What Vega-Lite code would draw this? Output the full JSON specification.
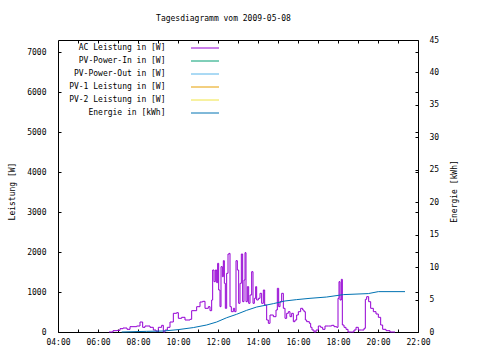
{
  "$schema": "https://vega.github.io/schema/vega-lite/v6.json",
  "autosize": {"type": "none"},
  "width": 360,
  "height": 292,
  "padding": {"left": 58, "top": 40, "right": 62, "bottom": 28},
  "background": "white",
  "title": {"text": "Tagesdiagramm vom 2009-05-08", "anchor": "middle", "frame": "group", "dx": -14.5, "offset": 7, "baseline": "alphabetic", "font": "DejaVu Sans Mono", "fontSize": 8, "fontWeight": "normal", "color": "black"},
  "config": {
    "view": {"stroke": "black", "strokeWidth": 1},
    "axis": {"domain": false, "grid": false, "tickColor": "black", "tickSize": -3, "tickWidth": 1, "labelFont": "DejaVu Sans Mono", "labelFontSize": 8, "labelColor": "black", "titleFont": "DejaVu Sans Mono", "titleFontSize": 8, "titleFontWeight": "normal", "titleColor": "black"},
    "legend": {"orient": "none", "legendX": 143, "legendY": 4, "title": null, "symbolType": "M-7,0H7", "symbolSize": 16, "symbolStrokeWidth": 1, "symbolOpacity": 1, "rowPadding": 5, "labelOffset": -43.5, "labelAlign": "right", "labelFont": "DejaVu Sans Mono", "labelFontSize": 8, "labelColor": "black", "padding": 0, "labelLimit": 300}
  },
  "datasets": {
    "ac": [
      {"t": "2009-05-08T06:33", "w": 0}, {"t": "2009-05-08T06:45", "w": 33}, {"t": "2009-05-08T06:57", "w": 40}, {"t": "2009-05-08T07:06", "w": 83}, {"t": "2009-05-08T07:15", "w": 100}, {"t": "2009-05-08T07:27", "w": 67}, {"t": "2009-05-08T07:36", "w": 133}, {"t": "2009-05-08T07:56", "w": 150}, {"t": "2009-05-08T08:06", "w": 250}, {"t": "2009-05-08T08:14", "w": 117}, {"t": "2009-05-08T08:21", "w": 150}, {"t": "2009-05-08T08:36", "w": 117}, {"t": "2009-05-08T08:46", "w": 50}, {"t": "2009-05-08T08:54", "w": 17}, {"t": "2009-05-08T09:01", "w": 117}, {"t": "2009-05-08T09:11", "w": 167}, {"t": "2009-05-08T09:16", "w": 0}, {"t": "2009-05-08T09:21", "w": 50}, {"t": "2009-05-08T09:28", "w": 117}, {"t": "2009-05-08T09:36", "w": 250}, {"t": "2009-05-08T09:46", "w": 467}, {"t": "2009-05-08T09:56", "w": 483}, {"t": "2009-05-08T10:01", "w": 342}, {"t": "2009-05-08T10:11", "w": 367}, {"t": "2009-05-08T10:21", "w": 300}, {"t": "2009-05-08T10:36", "w": 317}, {"t": "2009-05-08T10:41", "w": 533}, {"t": "2009-05-08T10:56", "w": 633}, {"t": "2009-05-08T11:06", "w": 750}, {"t": "2009-05-08T11:14", "w": 767}, {"t": "2009-05-08T11:21", "w": 592}, {"t": "2009-05-08T11:31", "w": 633}, {"t": "2009-05-08T11:36", "w": 533}, {"t": "2009-05-08T11:41", "w": 800}, {"t": "2009-05-08T11:44", "w": 1550}, {"t": "2009-05-08T11:48", "w": 1258}, {"t": "2009-05-08T11:52", "w": 1550}, {"t": "2009-05-08T11:56", "w": 1233}, {"t": "2009-05-08T11:59", "w": 1717}, {"t": "2009-05-08T12:02", "w": 1050}, {"t": "2009-05-08T12:06", "w": 633}, {"t": "2009-05-08T12:09", "w": 1633}, {"t": "2009-05-08T12:13", "w": 1383}, {"t": "2009-05-08T12:16", "w": 1783}, {"t": "2009-05-08T12:19", "w": 1217}, {"t": "2009-05-08T12:22", "w": 592}, {"t": "2009-05-08T12:26", "w": 1467}, {"t": "2009-05-08T12:30", "w": 1950}, {"t": "2009-05-08T12:34", "w": 1967}, {"t": "2009-05-08T12:36", "w": 633}, {"t": "2009-05-08T12:40", "w": 508}, {"t": "2009-05-08T12:46", "w": 592}, {"t": "2009-05-08T12:50", "w": 508}, {"t": "2009-05-08T12:54", "w": 1783}, {"t": "2009-05-08T12:58", "w": 1550}, {"t": "2009-05-08T13:02", "w": 717}, {"t": "2009-05-08T13:06", "w": 1217}, {"t": "2009-05-08T13:10", "w": 1950}, {"t": "2009-05-08T13:14", "w": 758}, {"t": "2009-05-08T13:18", "w": 1300}, {"t": "2009-05-08T13:21", "w": 1983}, {"t": "2009-05-08T13:24", "w": 758}, {"t": "2009-05-08T13:28", "w": 1133}, {"t": "2009-05-08T13:32", "w": 717}, {"t": "2009-05-08T13:36", "w": 925}, {"t": "2009-05-08T13:41", "w": 1508}, {"t": "2009-05-08T13:45", "w": 717}, {"t": "2009-05-08T13:49", "w": 842}, {"t": "2009-05-08T13:53", "w": 1133}, {"t": "2009-05-08T13:56", "w": 800}, {"t": "2009-05-08T14:01", "w": 842}, {"t": "2009-05-08T14:06", "w": 967}, {"t": "2009-05-08T14:11", "w": 717}, {"t": "2009-05-08T14:16", "w": 1050}, {"t": "2009-05-08T14:20", "w": 675}, {"t": "2009-05-08T14:26", "w": 300}, {"t": "2009-05-08T14:31", "w": 217}, {"t": "2009-05-08T14:36", "w": 425}, {"t": "2009-05-08T14:46", "w": 383}, {"t": "2009-05-08T14:54", "w": 550}, {"t": "2009-05-08T14:58", "w": 1092}, {"t": "2009-05-08T15:02", "w": 633}, {"t": "2009-05-08T15:06", "w": 758}, {"t": "2009-05-08T15:11", "w": 967}, {"t": "2009-05-08T15:16", "w": 592}, {"t": "2009-05-08T15:21", "w": 342}, {"t": "2009-05-08T15:26", "w": 467}, {"t": "2009-05-08T15:31", "w": 508}, {"t": "2009-05-08T15:36", "w": 383}, {"t": "2009-05-08T15:41", "w": 467}, {"t": "2009-05-08T15:46", "w": 258}, {"t": "2009-05-08T15:51", "w": 300}, {"t": "2009-05-08T15:56", "w": 425}, {"t": "2009-05-08T16:01", "w": 508}, {"t": "2009-05-08T16:08", "w": 592}, {"t": "2009-05-08T16:14", "w": 550}, {"t": "2009-05-08T16:18", "w": 508}, {"t": "2009-05-08T16:22", "w": 300}, {"t": "2009-05-08T16:26", "w": 258}, {"t": "2009-05-08T16:34", "w": 217}, {"t": "2009-05-08T16:38", "w": 117}, {"t": "2009-05-08T16:42", "w": 50}, {"t": "2009-05-08T16:48", "w": 0}, {"t": "2009-05-08T16:54", "w": 50}, {"t": "2009-05-08T17:01", "w": 150}, {"t": "2009-05-08T17:08", "w": 117}, {"t": "2009-05-08T17:14", "w": 67}, {"t": "2009-05-08T17:21", "w": 150}, {"t": "2009-05-08T17:31", "w": 150}, {"t": "2009-05-08T17:41", "w": 167}, {"t": "2009-05-08T17:48", "w": 133}, {"t": "2009-05-08T17:56", "w": 117}, {"t": "2009-05-08T18:00", "w": 842}, {"t": "2009-05-08T18:03", "w": 1258}, {"t": "2009-05-08T18:06", "w": 800}, {"t": "2009-05-08T18:10", "w": 1317}, {"t": "2009-05-08T18:13", "w": 175}, {"t": "2009-05-08T18:18", "w": 117}, {"t": "2009-05-08T18:24", "w": 67}, {"t": "2009-05-08T18:30", "w": 0}, {"t": "2009-05-08T18:41", "w": 0}, {"t": "2009-05-08T18:48", "w": 50}, {"t": "2009-05-08T18:54", "w": 117}, {"t": "2009-05-08T19:01", "w": 50}, {"t": "2009-05-08T19:11", "w": 50}, {"t": "2009-05-08T19:18", "w": 92}, {"t": "2009-05-08T19:22", "w": 817}, {"t": "2009-05-08T19:26", "w": 883}, {"t": "2009-05-08T19:32", "w": 758}, {"t": "2009-05-08T19:38", "w": 592}, {"t": "2009-05-08T19:46", "w": 508}, {"t": "2009-05-08T19:54", "w": 450}, {"t": "2009-05-08T20:01", "w": 367}, {"t": "2009-05-08T20:08", "w": 175}, {"t": "2009-05-08T20:14", "w": 67}, {"t": "2009-05-08T20:24", "w": 33}, {"t": "2009-05-08T20:36", "w": 0}, {"t": "2009-05-08T20:51", "w": 0}
    ],
    "en": [
      {"t": "2009-05-08T07:11", "e": 0}, {"t": "2009-05-08T08:26", "e": 0.1}, {"t": "2009-05-08T09:16", "e": 0.15}, {"t": "2009-05-08T10:01", "e": 0.37}, {"t": "2009-05-08T10:46", "e": 0.68}, {"t": "2009-05-08T11:26", "e": 1.08}, {"t": "2009-05-08T11:56", "e": 1.54}, {"t": "2009-05-08T12:26", "e": 2.2}, {"t": "2009-05-08T12:56", "e": 2.73}, {"t": "2009-05-08T13:26", "e": 3.34}, {"t": "2009-05-08T13:56", "e": 3.85}, {"t": "2009-05-08T14:46", "e": 4.37}, {"t": "2009-05-08T15:21", "e": 4.78}, {"t": "2009-05-08T15:56", "e": 4.99}, {"t": "2009-05-08T16:36", "e": 5.19}, {"t": "2009-05-08T17:26", "e": 5.39}, {"t": "2009-05-08T18:16", "e": 5.76}, {"t": "2009-05-08T19:31", "e": 5.92}, {"t": "2009-05-08T20:01", "e": 6.22}, {"t": "2009-05-08T21:21", "e": 6.22}
    ]
  },
  "layer": [
    {
      "data": {"name": "ac"},
      "transform": [{"calculate": "'AC Leistung in [W]'", "as": "s"}],
      "mark": {"type": "line", "interpolate": "step-after", "strokeWidth": 1},
      "encoding": {
        "x": {"field": "t", "type": "temporal", "scale": {"domain": [{"year": 2009, "month": 5, "date": 8, "hours": 4}, {"year": 2009, "month": 5, "date": 8, "hours": 22}], "nice": false},
              "axis": {"orient": "bottom", "title": null, "format": "%H:%M", "labelPadding": 9.5, "labelFlush": false, "labelOverlap": false,
                       "values": [{"year": 2009, "month": 5, "date": 8, "hours": 4}, {"year": 2009, "month": 5, "date": 8, "hours": 6}, {"year": 2009, "month": 5, "date": 8, "hours": 8}, {"year": 2009, "month": 5, "date": 8, "hours": 10}, {"year": 2009, "month": 5, "date": 8, "hours": 12}, {"year": 2009, "month": 5, "date": 8, "hours": 14}, {"year": 2009, "month": 5, "date": 8, "hours": 16}, {"year": 2009, "month": 5, "date": 8, "hours": 18}, {"year": 2009, "month": 5, "date": 8, "hours": 20}, {"year": 2009, "month": 5, "date": 8, "hours": 22}]}},
        "y": {"field": "w", "type": "quantitative", "scale": {"domain": [0, 7300], "nice": false},
              "axis": {"orient": "left", "title": "Leistung [W]", "values": [0, 1000, 2000, 3000, 4000, 5000, 6000, 7000], "format": "d", "labelPadding": 15, "titleX": -41.5, "titleY": 151, "titleAngle": -90, "titleBaseline": "bottom"}},
        "color": {"field": "s", "type": "nominal",
                  "scale": {"domain": ["AC Leistung in [W]", "PV-Power-In in [W]", "PV-Power-Out in [W]", "PV-1 Leistung in [W]", "PV-2 Leistung in [W]", "Energie in [kWh]"], "range": ["#9400D3", "#009E73", "#56B4E9", "#E69F00", "#F0E442", "#0072B2"]}}
      }
    },
    {
      "data": {"name": "en"},
      "transform": [{"calculate": "'Energie in [kWh]'", "as": "s"}],
      "mark": {"type": "line", "interpolate": "linear", "strokeWidth": 1},
      "encoding": {
        "x": {"field": "t", "type": "temporal",
              "axis": {"orient": "bottom", "title": null, "labels": false,
                       "values": [{"year": 2009, "month": 5, "date": 8, "hours": 5}, {"year": 2009, "month": 5, "date": 8, "hours": 7}, {"year": 2009, "month": 5, "date": 8, "hours": 9}, {"year": 2009, "month": 5, "date": 8, "hours": 11}, {"year": 2009, "month": 5, "date": 8, "hours": 13}, {"year": 2009, "month": 5, "date": 8, "hours": 15}, {"year": 2009, "month": 5, "date": 8, "hours": 17}, {"year": 2009, "month": 5, "date": 8, "hours": 19}, {"year": 2009, "month": 5, "date": 8, "hours": 21}]}},
        "y": {"field": "e", "type": "quantitative", "scale": {"domain": [0, 45], "nice": false},
              "axis": {"orient": "right", "title": "Energie [kWh]", "values": [0, 5, 10, 15, 20, 25, 30, 35, 40, 45], "format": "d", "labelPadding": 14, "titleX": 40, "titleY": 151, "titleAngle": -90, "titleBaseline": "bottom"}},
        "color": {"field": "s", "type": "nominal"}
      }
    },
    {
      "data": {"name": "en"},
      "transform": [{"filter": "datum.e < 0"}],
      "mark": {"type": "line", "strokeWidth": 0},
      "encoding": {
        "x": {"field": "t", "type": "temporal",
              "axis": {"orient": "top", "title": null, "labels": false,
                       "values": [{"year": 2009, "month": 5, "date": 8, "hours": 5}, {"year": 2009, "month": 5, "date": 8, "hours": 6}, {"year": 2009, "month": 5, "date": 8, "hours": 7}, {"year": 2009, "month": 5, "date": 8, "hours": 8}, {"year": 2009, "month": 5, "date": 8, "hours": 9}, {"year": 2009, "month": 5, "date": 8, "hours": 10}, {"year": 2009, "month": 5, "date": 8, "hours": 11}, {"year": 2009, "month": 5, "date": 8, "hours": 12}, {"year": 2009, "month": 5, "date": 8, "hours": 13}, {"year": 2009, "month": 5, "date": 8, "hours": 14}, {"year": 2009, "month": 5, "date": 8, "hours": 15}, {"year": 2009, "month": 5, "date": 8, "hours": 16}, {"year": 2009, "month": 5, "date": 8, "hours": 17}, {"year": 2009, "month": 5, "date": 8, "hours": 18}, {"year": 2009, "month": 5, "date": 8, "hours": 19}, {"year": 2009, "month": 5, "date": 8, "hours": 20}, {"year": 2009, "month": 5, "date": 8, "hours": 21}]}},
        "y": {"field": "e", "type": "quantitative", "scale": {"domain": [0, 7300], "nice": false},
              "axis": {"orient": "right", "title": null, "labels": false, "values": [1000, 2000, 3000, 4000, 5000, 6000, 7000]}}
      }
    }
  ],
  "resolve": {"scale": {"y": "independent"}, "axis": {"x": "independent", "y": "independent"}}
}
